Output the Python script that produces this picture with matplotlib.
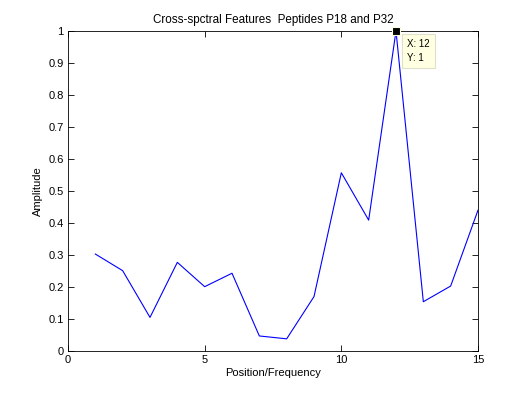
import matplotlib
matplotlib.use("Agg")
import matplotlib.pyplot as plt

# Values
positions = [1, 2, 3, 4, 5, 6, 7, 8, 9, 10, 11, 12, 13, 14, 15]
amplitude = [0.303, 0.251, 0.105, 0.277, 0.201, 0.243, 0.047, 0.038,
             0.170, 0.557, 0.409, 1.0, 0.154, 0.203, 0.44]
x_ticks = [0, 5, 10, 15]
y_ticks = [0, 0.1, 0.2, 0.3, 0.4, 0.5, 0.6, 0.7, 0.8, 0.9, 1]
tip_index = 11

plt.rcParams["font.family"] = ["Liberation Sans", "DejaVu Sans"]
plt.rcParams["font.size"] = 8

fig = plt.figure(figsize=(5.27, 3.95), dpi=100)
ax = fig.add_axes([68 / 527, 44 / 395, 410 / 527, 320 / 395])

ax.plot(positions, amplitude, color="#0000ff", linewidth=0.8)

# data tip
tx, ty = positions[tip_index], amplitude[tip_index]
ax.plot([tx], [ty], marker="s", markersize=6, color="black",
        markeredgecolor="#ffffe0", markeredgewidth=0.8, clip_on=False, zorder=5)
ax.annotate(f"X: {tx}\nY: {ty:g}", xy=(tx, ty), xytext=(8, -6),
            textcoords="offset points", ha="left", va="top", fontsize=7,
            linespacing=1.5,
            bbox=dict(boxstyle="square,pad=0.5", facecolor="#ffffe1",
                      edgecolor="#e0e0c8", linewidth=0.8))

ax.set_xlim(0, 15)
ax.set_ylim(0, 1)
ax.set_xticks(x_ticks)
ax.set_yticks(y_ticks)
ax.set_yticklabels([f"{v:g}" for v in y_ticks])
ax.tick_params(direction="in", top=True, right=True, length=4, width=0.6, pad=3)
for s in ax.spines.values():
    s.set_linewidth(0.6)

ax.set_xlabel("Position/Frequency", labelpad=2)
ax.set_ylabel("Amplitude", labelpad=4)
ax.set_title("Cross-spctral Features  Peptides P18 and P32", fontsize=8.4, pad=6)

fig.savefig("out.png", dpi=100)
